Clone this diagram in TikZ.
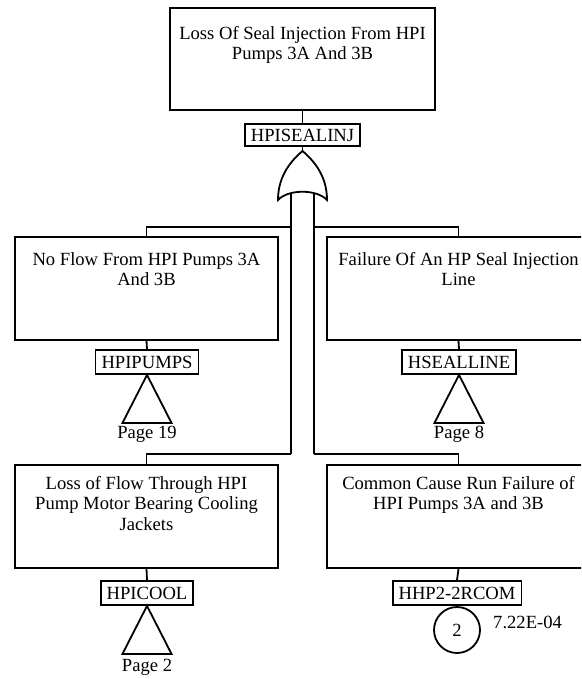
\documentclass[tikz,border=0pt]{standalone}
\usepackage{fontspec}
\setmainfont{Liberation Serif}
\begin{document}
\begin{tikzpicture}[x=1pt,y=-1pt,
  every node/.style={font=\fontsize{18.6}{20.5}\selectfont},
  eventbox/.style={draw, line width=1.8pt, minimum width=263pt, minimum height=103pt, inner sep=0pt},
  desc/.style={anchor=north, align=center, inner sep=0pt},
  tag/.style={draw, line width=1.8pt, inner xsep=6pt, inner ysep=0pt, minimum height=24pt},
  wire/.style={line width=1.8pt},
  note/.style={inner sep=0pt}
]
\useasboundingbox (0,0) rectangle (581,679);
\clip (0,0) rectangle (581,679);

% top event
\node[eventbox, minimum width=265pt, minimum height=102pt] (top) at (302.5,59) {};
\node[desc] (toptext) at (302.5,26) {Loss Of Seal Injection From HPI\\Pumps 3A And 3B};
\node[tag, minimum height=22pt] (topid) at (302.5,135) {HPISEALINJ};
\draw[wire] (top.south) -- (topid.north);

% OR gate
\coordinate (gtop) at (302.5,151);
\draw[wire] (gtop) .. controls (292,160) and (278,175) .. (278,200)
  .. controls (288,189) and (317,189) .. (327,200)
  .. controls (327,175) and (313,160) .. (gtop) -- cycle;
\draw[wire] (topid.south) -- (gtop);

% gate inputs
\coordinate (inL) at (291,193);
\coordinate (inR) at (314,193);
\coordinate (busL) at (291,227);
\coordinate (busR) at (314,227);
\coordinate (legL) at (291,454);
\coordinate (legR) at (314,454);
\draw[wire] (inL) -- (legL);
\draw[wire] (inR) -- (legR);

% first row of inputs
\node[eventbox] (nf) at (146.5,288.5) {};
\node[desc] (nftext) at (146.5,252) {No Flow From HPI Pumps 3A\\And 3B};
\node[eventbox] (fs) at (458.5,288.5) {};
\node[desc] (fstext) at (458.5,252) {Failure Of An HP Seal Injection\\Line};
\draw[wire] (busL) -| (nf.north);
\draw[wire] (busR) -| (fs.north);

\node[tag] (hp) at (147,362) {HPIPUMPS};
\node[tag] (hs) at (459,362) {HSEALLINE};
\draw[wire] (nf.south) -- (hp.north);
\draw[wire] (fs.south) -- (hs.north);
\draw[wire] (hp.south) -- ++(-24.5,48) -- ++(49,0) -- cycle;
\draw[wire] (hs.south) -- ++(-24.5,48) -- ++(49,0) -- cycle;
\node[note] (p19) at (147,434) {Page 19};
\node[note] (p8) at (459,434) {Page 8};

% second row of inputs
\node[eventbox] (lf) at (146.5,516.5) {};
\node[desc] (lftext) at (146.5,476) {Loss of Flow Through HPI\\Pump Motor Bearing Cooling\\Jackets};
\node[eventbox] (cc) at (458.5,516.5) {};
\node[desc] (cctext) at (458.5,476) {Common Cause Run Failure of\\HPI Pumps 3A and 3B};
\draw[wire] (legL) -| (lf.north);
\draw[wire] (legR) -| (cc.north);

\node[tag] (hc) at (147,593) {HPICOOL};
\node[tag] (hh) at (457,593) {HHP2-2RCOM};
\draw[wire] (lf.south) -- (hc.north);
\draw[wire] (cc.south) -- (hh.north);
\draw[wire] (hc.south) -- ++(-24.5,48) -- ++(49,0) -- cycle;
\node[note] (p2) at (147,667) {Page 2};

\node[draw, circle, line width=1.8pt, minimum size=46pt, inner sep=0pt] (be) at (457,630) {2};
\node[note, anchor=west] (prob) at (493,622) {7.22E-04};
\end{tikzpicture}
\end{document}
